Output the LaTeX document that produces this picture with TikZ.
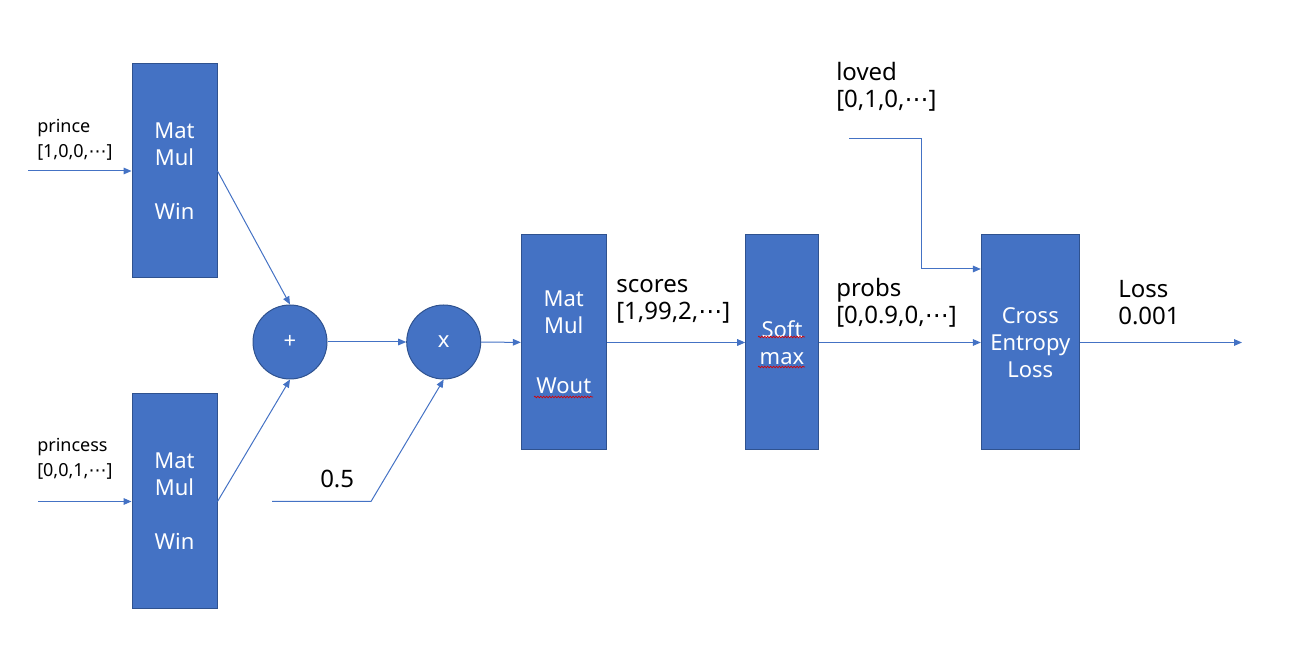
\documentclass[tikz,border=0pt]{standalone}
\usepackage{fontspec}
\setmainfont{Noto Sans}
\newfontfamily\djv{DejaVu Sans}
\newcommand\mydots{{\djv ⋯}}
\usetikzlibrary{arrows.meta,decorations.pathmorphing}
\definecolor{ofblue}{HTML}{4472C4}
\definecolor{ofdark}{HTML}{2F528F}
\tikzset{
  opbox/.style={draw=ofdark, fill=ofblue, line width=0.75pt, rectangle, inner sep=0pt,
    text=white, align=center, font=\fontsize{16.5}{20.25}\selectfont},
  opcirc/.style={draw=ofdark, fill=ofblue, line width=0.75pt, circle, inner sep=0pt,
    minimum size=55.5pt, text=white, font=\fontsize{16.5}{20.25}\selectfont},
  conn/.style={draw=ofblue, line width=0.75pt},
  arr/.style={conn, -{Triangle[length=6pt,width=5pt]}},
  biglabel/.style={anchor=west, align=left, inner sep=0pt, font=\fontsize{18}{20.5}\selectfont},
  smalllabel/.style={anchor=west, align=left, inner sep=0pt, font=\fontsize{13.5}{18.5}\selectfont},
  squig/.style={draw=red!85!black, line width=0.5pt, decorate, decoration={snake, amplitude=0.6pt, segment length=2.2pt}}
}
\begin{document}
\begin{tikzpicture}[x=0.75pt,y=-0.75pt]
\useasboundingbox (0,0) rectangle (1290,666);

% boxes
\node[opbox, minimum width=63.75pt, minimum height=160.5pt] (w1) at (174.5,171) {Mat\\Mul\\[20.25pt]Win};
\node[opbox, minimum width=63.75pt, minimum height=161.25pt] (w2) at (174.5,501.5) {Mat\\Mul\\[20.25pt]Win};
\node[opcirc] (plus) at (290,342) {+};
\node[opcirc] (times) at (443.7,342) {x};
\node[opbox, minimum width=63.75pt, minimum height=161.25pt] (wout) at (563.8,342.5) {Mat\\Mul\\[25pt]Wout};
\node[opbox, minimum width=54.4pt, minimum height=161.25pt] (soft) at (782,342.5) {Soft\\max};
\node[opbox, minimum width=73.5pt, minimum height=161.25pt] (ce) at (1030.3,342.5) {Cross\\Entropy\\Loss};

% spell-check underlines
\draw[squig] (534,397) -- (593,397);
\draw[squig] (758,337) -- (805,337);
\draw[squig] (758,367) -- (805,367);

% labels
\node[smalllabel] (lprince) at (37,140) {prince\\{[1,0,0,\mydots]}};
\node[smalllabel] (lprincess) at (37,459) {princess\\{[0,0,1,\mydots]}};
\node[biglabel] (lhalf) at (320,479) {0.5};
\node[biglabel] (lscores) at (616,301.5) {scores\\{[1,99,2,\mydots]}};
\node[biglabel] (lprobs) at (836,302.5) {probs\\{[0,0.9,0,\mydots]}};
\node[biglabel] (lloved) at (836,87) {loved\\{[0,1,0,\mydots]}};
\node[biglabel] (lloss) at (1118,302.5) {Loss\\0.001};

% coordinates
\coordinate (pin) at (28,171);
\coordinate (psin) at (38,501.5);
\coordinate (h0) at (272,501.5);
\coordinate (h1) at (371,501.5);
\coordinate (l0) at (849,139);
\coordinate (l1) at (921,139);
\coordinate (l2) at (921,269);
\coordinate (out) at (1242,342.5);

% connectors
\draw[arr] (pin) -- (w1);
\draw[arr] (psin) -- (w2);
\draw[arr] (w1.east) -- (plus.north);
\draw[arr] (w2.east) -- (plus.south);
\draw[arr] (plus) -- (times);
\draw[arr] (h0) -- (h1) -- (times.south);
\draw[arr] (times) -- (wout);
\draw[arr] (wout) -- (soft);
\draw[arr] (soft) -- (ce);
\draw[arr] (l0) -- (l1) -- (l2) -- (l2 -| ce.west);
\draw[arr] (ce) -- (out);
\end{tikzpicture}
\end{document}
